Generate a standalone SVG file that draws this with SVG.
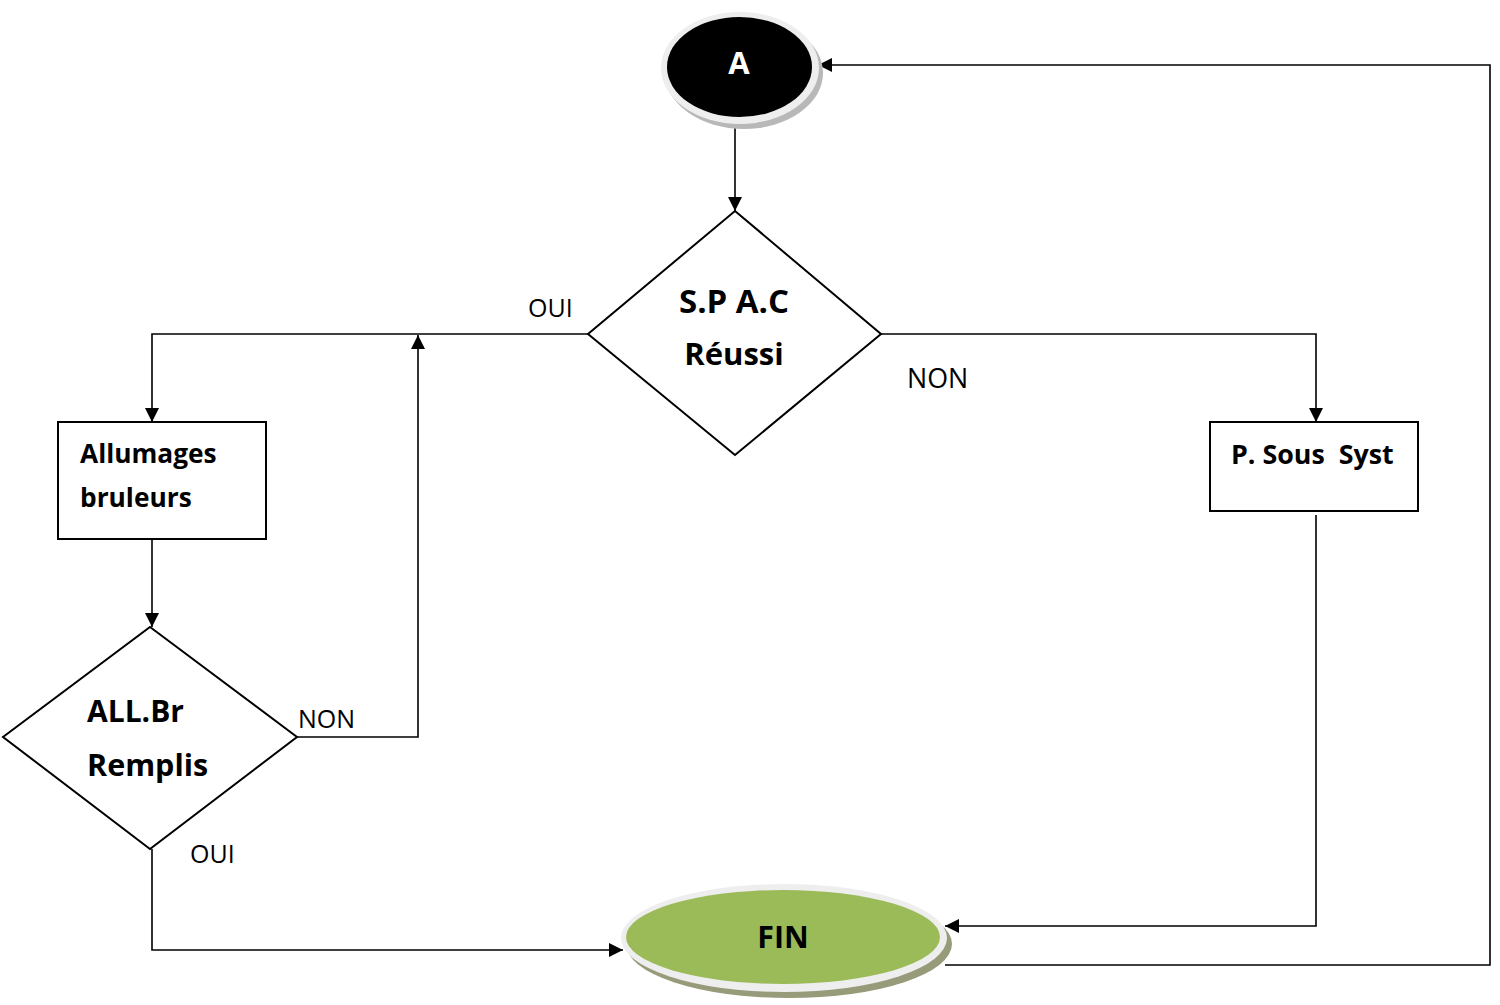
<svg xmlns="http://www.w3.org/2000/svg" width="1500" height="1005" viewBox="0 0 1500 1005">
  <style>
    .shape { fill: #fff; stroke: #000; stroke-width: 2; }
    .conn { fill: none; stroke: #000; stroke-width: 1.6; }
    .lbl { font-family: "Open Sans", "Liberation Sans", sans-serif; font-size: 25px; fill: #000; }
    .title { font-family: "Open Sans", "Liberation Sans", sans-serif; font-weight: bold; font-size: 30px; fill: #000; }
  </style>
  <defs>
    <marker id="arrowL" viewBox="0 0 10 10" refX="10" refY="5" markerWidth="14" markerHeight="14" markerUnits="userSpaceOnUse" orient="auto">
      <path d="M0,0 L10,5 L0,10 z" fill="#000"/>
    </marker>
  </defs>

  <rect width="1500" height="1005" fill="#fff"/>

  <!-- connectors -->
  <g id="connectors">
    <path class="conn" d="M735,125 V211" marker-end="url(#arrowL)"/>
    <path class="conn" d="M588,334 H152 V422" marker-end="url(#arrowL)"/>
    <path class="conn" d="M297,737 H418 V335" marker-end="url(#arrowL)"/>
    <path class="conn" d="M881,334 H1316 V422" marker-end="url(#arrowL)"/>
    <path class="conn" d="M152,539 V627" marker-end="url(#arrowL)"/>
    <path class="conn" d="M152,849 V950 H623" marker-end="url(#arrowL)"/>
    <path class="conn" d="M1316,515 V926 H945" marker-end="url(#arrowL)"/>
    <path class="conn" d="M945,965 H1490 V65 H818" marker-end="url(#arrowL)"/>
  </g>

  <!-- start terminal -->
  <g id="node-A">
    <ellipse cx="744" cy="73" rx="79" ry="56" fill="#b8b8b8"/>
    <ellipse cx="740" cy="68" rx="79" ry="56" fill="#eeeeee"/>
    <ellipse cx="739.5" cy="67" rx="72.5" ry="50" fill="#000"/>
    <text x="739" y="74" text-anchor="middle" font-family="Open Sans, Liberation Sans, sans-serif" font-weight="bold" font-size="31" fill="#fff">A</text>
  </g>

  <!-- decision S.P A.C -->
  <g id="node-spac">
    <polygon class="shape" points="735,211 881,334 735,455 588,334"/>
    <text class="title" x="734" y="313" text-anchor="middle" style="font-size:33px">S.P A.C</text>
    <text class="title" x="734" y="365" text-anchor="middle" style="font-size:31px">Réussi</text>
  </g>

  <!-- process Allumages bruleurs -->
  <g id="node-allumages">
    <rect class="shape" x="58" y="422" width="208" height="117"/>
    <text class="title" x="80" y="463" style="font-size:26.3px">Allumages</text>
    <text class="title" x="80" y="507" style="font-size:26.3px">bruleurs</text>
  </g>

  <!-- process P. Sous Syst -->
  <g id="node-psous">
    <rect class="shape" x="1210" y="422" width="208" height="89"/>
    <text class="title" x="1231" y="464" style="font-size:26.8px" xml:space="preserve">P. Sous  Syst</text>
  </g>

  <!-- decision ALL.Br Remplis -->
  <g id="node-allbr">
    <polygon class="shape" points="150,627 297,737 150,849 3,737"/>
    <text class="title" x="87" y="722" style="font-size:30px">ALL.Br</text>
    <text class="title" x="87" y="776" style="font-size:30.5px">Remplis</text>
  </g>

  <!-- end terminal -->
  <g id="node-fin">
    <ellipse cx="789" cy="944" rx="163" ry="54" fill="#989b79"/>
    <ellipse cx="784" cy="938" rx="163" ry="54" fill="#eeeeee"/>
    <ellipse cx="783" cy="937" rx="157" ry="47" fill="#9bbb59"/>
    <text class="title" x="783" y="948" text-anchor="middle" style="font-size:30.4px">FIN</text>
  </g>

  <!-- branch labels -->
  <g id="labels">
    <text class="lbl" x="528" y="317">OUI</text>
    <text class="lbl" x="907" y="388" style="font-size:26.8px">NON</text>
    <text class="lbl" x="298" y="728" style="font-size:25px">NON</text>
    <text class="lbl" x="190" y="863">OUI</text>
  </g>
</svg>
